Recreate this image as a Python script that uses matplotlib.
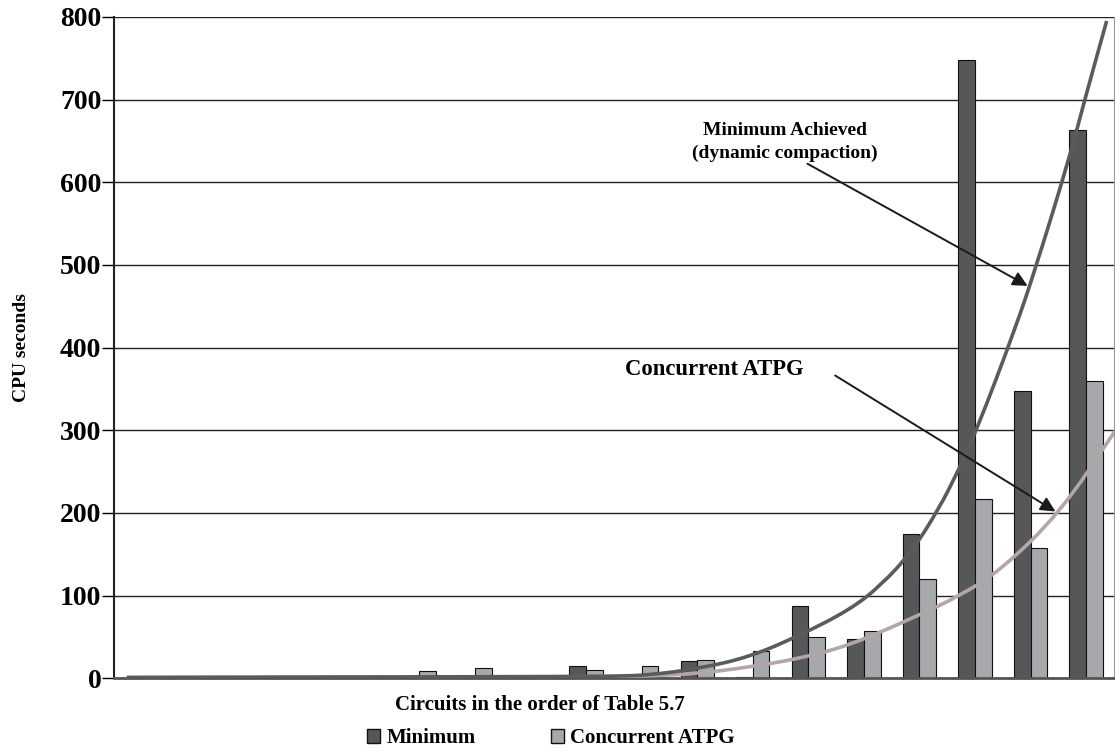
import matplotlib
matplotlib.use("Agg")
import matplotlib.pyplot as plt
import numpy as np
from matplotlib.patches import Patch, PathPatch
from matplotlib.path import Path

# CPU seconds per circuit (18 circuits, order of Table 5.7)
minimum = [0, 0, 0, 0, 0, 0, 0, 0, 15, 0, 21, 2, 88, 47, 174, 748, 347, 663]
concurrent = [0, 0, 0, 0, 0, 8.5, 12, 0, 10.5, 15, 22, 33, 50, 57, 120, 217, 158, 360]

# trend curves (x in circuit positions, y in CPU seconds)
trend_min_x = [-0.27, 7.35, 8.55, 9.15, 10.05, 10.95, 11.85, 12.75, 13.30, 13.85,
               14.35, 14.69, 15.03, 15.72, 16.11, 16.71, 16.98, 17.37]
trend_min_y = [1, 2, 2.5, 4, 12, 26, 52, 83, 112, 152, 205, 250, 300, 422, 500, 632, 701, 795]
trend_con_x = [-0.27, 8.25, 9.15, 10.05, 10.95, 11.85, 12.75, 13.95, 14.73, 15.45, 16.53, 17.52]
trend_con_y = [1, 1.5, 2.8, 6, 13.7, 24, 40, 75, 100, 130, 200, 299]

yticks = [0, 100, 200, 300, 400, 500, 600, 700, 800]

dark = "#555759"
light = "#a7a8ac"
font = "Liberation Serif"


def smooth_path(xs, ys):
    # quadratic bezier through midpoints, read points act as control points
    verts = [(xs[0], ys[0])]
    codes = [Path.MOVETO]
    for i in range(1, len(xs) - 1):
        verts.append((xs[i], ys[i]))
        verts.append(((xs[i] + xs[i + 1]) / 2, (ys[i] + ys[i + 1]) / 2))
        codes += [Path.CURVE3, Path.CURVE3]
    verts.append((xs[-1], ys[-1]))
    codes.append(Path.LINETO)
    return Path(verts, codes)


fig = plt.figure(figsize=(11.15, 7.52), dpi=100)
ax = fig.add_axes([0.1022, 0.098, 0.8968, 0.8796])

x = np.arange(len(minimum))
w = 0.3
ax.bar(x - w / 2, minimum, w, color=dark, edgecolor="#111111", linewidth=0.8, zorder=2)
ax.bar(x + w / 2, concurrent, w, color=light, edgecolor="#111111", linewidth=0.8, zorder=2)

ax.add_patch(PathPatch(smooth_path(trend_con_x, trend_con_y), fill=False,
                       edgecolor="#b3a6a6", lw=2.6, zorder=3))
ax.add_patch(PathPatch(smooth_path(trend_min_x, trend_min_y), fill=False,
                       edgecolor="#5a5b5d", lw=2.6, zorder=3))

ax.set_xlim(-0.5, 17.5)
ax.set_ylim(0, 800)
ax.set_yticks(yticks)
ax.set_yticklabels([str(t) for t in yticks], fontfamily=font, fontweight="bold", fontsize=20)
ax.set_xticks([])
ax.tick_params(axis="y", direction="out", length=9, width=1, pad=0)
ax.grid(axis="y", color="#222222", lw=1, zorder=0)
ax.set_axisbelow(True)

ax.spines["left"].set_color("#222222")
ax.spines["left"].set_linewidth(1.5)
ax.spines["bottom"].set_color("#555555")
ax.spines["bottom"].set_linewidth(2)
ax.spines["right"].set_color("#999999")
ax.spines["top"].set_visible(False)

ax.set_ylabel("CPU seconds", fontfamily=font, fontweight="bold", fontsize=14, labelpad=22)

fig.text(0.484, 1 - 705 / 752, "Circuits in the order of Table 5.7", ha="center", va="center",
         fontfamily=font, fontweight="bold", fontsize=15)

ax.text(11.58, 649, "Minimum Achieved\n(dynamic compaction)", ha="center", va="center",
        fontfamily=font, fontweight="bold", fontsize=14, linespacing=1.45)
ax.annotate("", xy=(15.99, 473), xytext=(11.94, 624),
            arrowprops=dict(arrowstyle="-|>", color="#1a1a1a", lw=1.4, mutation_scale=22))

ax.text(10.3, 373, "Concurrent ATPG", ha="center", va="center",
        fontfamily=font, fontweight="bold", fontsize=16.3)
ax.annotate("", xy=(16.49, 200), xytext=(12.44, 368),
            arrowprops=dict(arrowstyle="-|>", color="#1a1a1a", lw=1.4, mutation_scale=22))

handles = [Patch(facecolor=dark, edgecolor="#111111", label="Minimum"),
           Patch(facecolor=light, edgecolor="#111111", label="Concurrent ATPG")]
fig.legend(handles=handles, loc="center", bbox_to_anchor=(0.494, 1 - 738 / 752), ncol=2,
           frameon=False, handlelength=0.65, handleheight=0.65, handletextpad=0.3,
           columnspacing=3.6, prop={"family": font, "weight": "bold", "size": 15})

fig.savefig("out.png", dpi=100)
